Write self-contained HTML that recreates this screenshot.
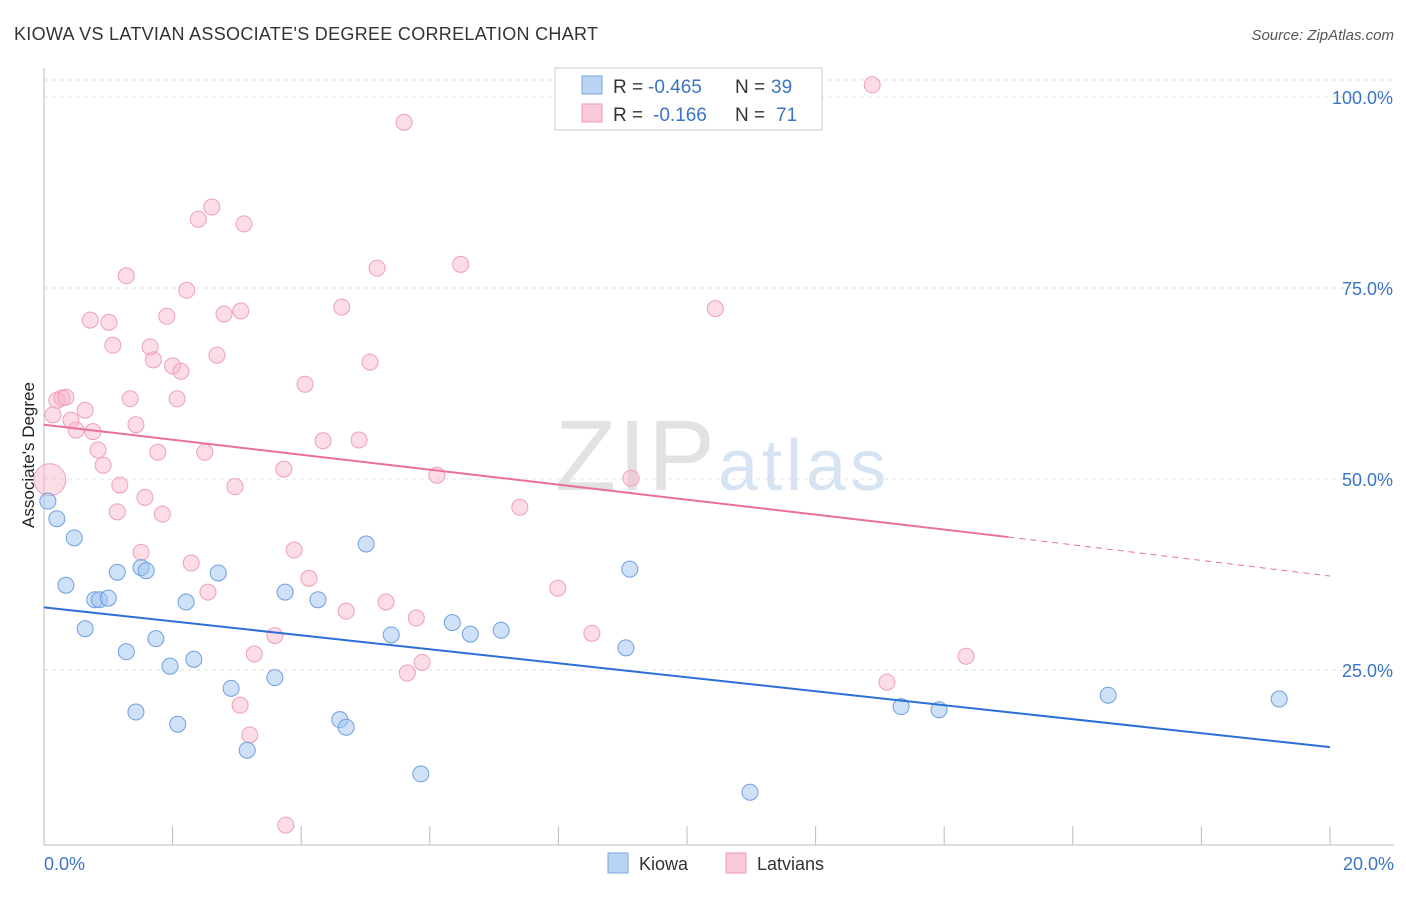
<!DOCTYPE html>
<html><head><meta charset="utf-8"><style>
body{margin:0;background:#fff;font-family:"Liberation Sans",sans-serif;}
svg text{font-family:"Liberation Sans",sans-serif;}
</style></head><body>
<svg id="chart" width="1406" height="892">
<text x="14" y="40" font-size="18" fill="#333" textLength="584">KIOWA VS LATVIAN ASSOCIATE'S DEGREE CORRELATION CHART</text>
<text x="1394" y="40" font-size="15" fill="#555" font-style="italic" text-anchor="end">Source: ZipAtlas.com</text>
<text x="555" y="490" font-size="100" fill="#e2e2e2" font-family="Liberation Serif" textLength="160">ZIP</text>
<text x="718" y="490" font-size="72" fill="#d6e3f3" textLength="168">atlas</text>
<g id="grid"></g>
<line x1="44" y1="68" x2="44" y2="845" stroke="#bbb"/>
<line x1="44" y1="845" x2="1394" y2="845" stroke="#bbb"/>
<g id="xticks"></g>
<text x="34" y="455" font-size="17" fill="#222" text-anchor="middle" transform="rotate(-90 34 455)">Associate's Degree</text>
<text x="44" y="870" font-size="18" fill="#3a75c4">0.0%</text>
<text x="1394" y="870" font-size="18" fill="#3a75c4" text-anchor="end">20.0%</text>
<g id="pts"></g>
<g id="lines"></g>
<g>
<rect x="555" y="68" width="267" height="62" fill="#fff" stroke="#ccc"/>
<rect x="582" y="76" width="20" height="18" fill="#b9d3f5" stroke="#7aa7e0"/>
<rect x="582" y="104" width="20" height="18" fill="#fbcad8" stroke="#ee9ab4"/>
<text y="93" font-size="19" fill="#333"><tspan x="613">R =</tspan><tspan x="648" fill="#3a75c4">-0.465</tspan><tspan x="735">N =</tspan><tspan x="771" fill="#3a75c4">39</tspan></text>
<text y="121" font-size="19" fill="#333"><tspan x="613">R =</tspan><tspan x="653" fill="#3a75c4">-0.166</tspan><tspan x="735">N =</tspan><tspan x="776" fill="#3a75c4">71</tspan></text>
</g>
<g>
<rect x="608" y="853" width="20" height="20" fill="#b9d3f5" stroke="#7aa7e0"/>
<text x="639" y="870" font-size="18" fill="#333">Kiowa</text>
<rect x="726" y="853" width="20" height="20" fill="#fbcad8" stroke="#ee9ab4"/>
<text x="757" y="870" font-size="18" fill="#333">Latvians</text>
</g>
</svg>
<script>
const yTicks=[25,50,75,100];
const yTickLabels=["25.0%","50.0%","75.0%","100.0%"];
const xTicks=[0,2,4,6,8,10,12,14,16,18,20];
const kiowaX=[0.06,0.2,0.47,0.34,0.64,0.79,0.86,1.0,1.14,1.28,1.43,1.51,1.59,1.74,1.96,2.08,2.21,2.33,2.71,2.91,3.16,3.59,3.75,4.26,4.6,4.7,5.01,5.4,5.86,6.35,6.63,7.11,9.05,9.11,10.98,13.33,13.92,16.55,19.21];
const kiowaY=[47.1,44.8,42.3,36.1,30.4,34.2,34.2,34.4,37.8,27.4,19.5,38.4,38.0,29.1,25.5,17.9,33.9,26.4,37.7,22.6,14.5,24.0,35.2,34.2,18.5,17.5,41.5,29.6,11.4,31.2,29.7,30.2,27.9,38.2,9.0,20.2,19.8,21.7,21.2];
const latvX=[0.09,0.14,0.2,0.28,0.34,0.42,0.5,0.64,0.72,0.76,0.84,0.92,1.01,1.07,1.18,1.14,1.28,1.34,1.43,1.51,1.57,1.65,1.7,1.77,1.84,1.91,2.0,2.07,2.13,2.22,2.29,2.4,2.5,2.55,2.61,2.69,2.8,2.97,3.05,3.06,3.11,3.2,3.27,3.59,3.73,3.76,3.89,4.06,4.12,4.34,4.63,4.7,4.9,5.07,5.18,5.32,5.6,5.65,5.79,5.88,6.11,6.48,7.4,7.99,8.52,9.13,10.44,12.88,13.11,14.34];
const latvY=[49.9,58.4,60.3,60.6,60.7,57.7,56.4,59.0,70.8,56.2,53.8,51.8,70.5,67.5,49.2,45.7,76.6,60.5,57.1,40.4,47.6,67.3,65.6,53.5,45.4,71.3,64.8,60.5,64.1,74.7,39.0,84.0,53.5,35.2,85.6,66.2,71.6,49.0,20.4,72.0,83.4,16.5,27.1,29.5,51.3,4.7,40.7,62.4,37.0,55.0,72.5,32.7,55.1,65.3,77.6,33.9,96.7,24.6,31.8,26.0,50.5,78.1,46.3,35.7,29.8,50.1,72.3,101.6,23.4,26.8];
const kiowaTrend=[33.2,14.9];
const latvTrend=[57.1,42.4,37.3];
const X0=44,X1=1330,Y0=861,YS=764/100;
const sx=v=>X0+(v/20)*(X1-X0), sy=v=>Y0-v*YS;
const NS="http://www.w3.org/2000/svg";
function mk(t,a,p){const e=document.createElementNS(NS,t);for(const k in a)e.setAttribute(k,a[k]);p.appendChild(e);return e;}
const grid=document.getElementById('grid');
yTicks.forEach((t,i)=>{
 const l=mk('line',{x1:44,x2:1394,y1:sy(t),y2:sy(t),stroke:'#e2e2e2','stroke-dasharray':'4,4'},grid);
 
 
 const tx=mk('text',{x:1393,y:sy(t)+7,'font-size':18,fill:'#3a75c4','text-anchor':'end'},grid);
 tx.textContent=yTickLabels[i];
 
 
});
mk('line',{x1:44,x2:1394,y1:80,y2:80,stroke:'#e2e2e2','stroke-dasharray':'4,4'},grid);
const xt=document.getElementById('xticks');
xTicks.forEach(t=>{
 const l=mk('line',{x1:sx(t),x2:sx(t),y1:826,y2:845,stroke:'#bbb'},xt);
 
 
});
const pts=document.getElementById('pts');
latvX.forEach((x,i)=>{
 const c=mk('circle',{cx:sx(x),cy:sy(latvY[i]),r:i==0?16:8,fill:'rgba(248,180,200,0.45)',stroke:'#eda0b8','stroke-width':1},pts);
 
 
});
kiowaX.forEach((x,i)=>{
 const c=mk('circle',{cx:sx(x),cy:sy(kiowaY[i]),r:8,fill:'rgba(160,195,240,0.5)',stroke:'#6f9fe0','stroke-width':1},pts);
 
 
});
const ln=document.getElementById('lines');
const kl=mk('line',{x1:sx(0),y1:sy(kiowaTrend[0]),x2:sx(20),y2:sy(kiowaTrend[1]),stroke:'#2b6fd6','stroke-width':2},ln);


const ll=mk('line',{x1:sx(0),y1:sy(latvTrend[0]),x2:sx(15),y2:sy(latvTrend[1]),stroke:'#e8709a','stroke-width':2},ln);


const ld=mk('line',{x1:sx(15),y1:sy(latvTrend[1]),x2:sx(20),y2:sy(latvTrend[2]),stroke:'#e8709a','stroke-width':1,'stroke-dasharray':'6,5'},ln);


</script>
</body></html>
